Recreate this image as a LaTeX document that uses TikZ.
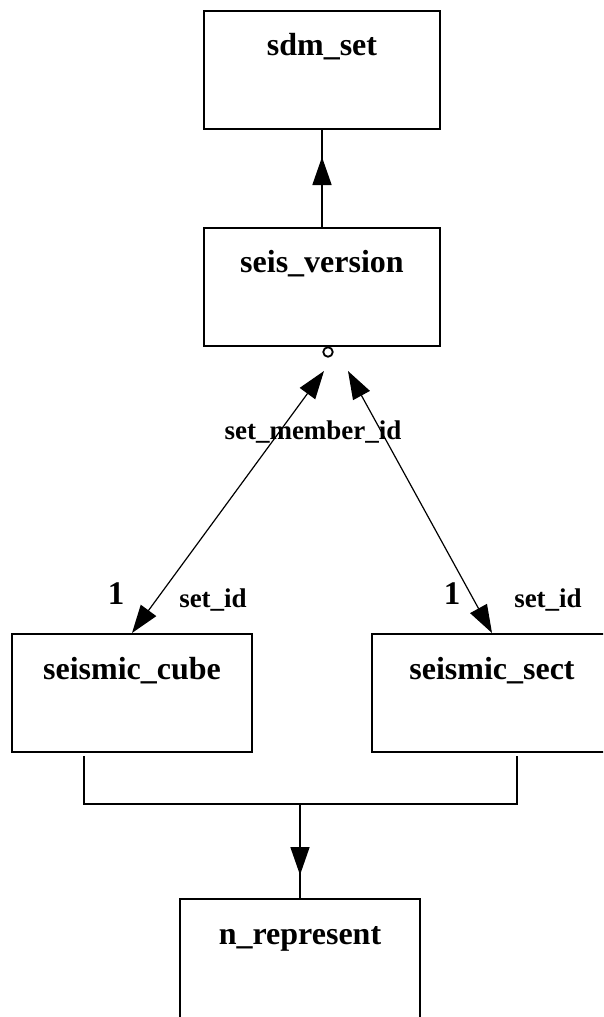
\documentclass[tikz,border=0pt]{standalone}
\usepackage{fontspec}
\setmainfont{Liberation Serif}
\usetikzlibrary{arrows.meta}
\begin{document}
\begin{tikzpicture}[x=1pt,y=1pt,
  ent/.style={draw, line width=1.5pt, minimum width=236pt, minimum height=118pt, inner sep=0pt, anchor=north},
  title/.style={font=\fontsize{32}{34}\selectfont\bfseries, anchor=base, inner sep=0pt},
  lbl/.style={font=\fontsize{27}{29}\selectfont\bfseries, anchor=base, inner sep=0pt},
  card/.style={font=\fontsize{33}{35}\selectfont\bfseries, anchor=base, inner sep=0pt},
  conn/.style={line width=1.2pt},
  vconn/.style={line width=1.7pt},
  tip/.style={-{Triangle[length=28pt,width=19pt]}},
  btip/.style={{Triangle[length=28pt,width=19pt]}-{Triangle[length=28pt,width=19pt]}}
]
\useasboundingbox (0,0) rectangle (603,-1017);
\clip (0,0) rectangle (603,-1017);
% entities
\node[ent] (sdm) at (322,-10) {};
\node[title] (sdmt) at (322,-55) {sdm\_set};
\node[ent] (sv) at (322,-227) {};
\node[title] (svt) at (322,-272) {seis\_version};
\node[ent, minimum width=240pt] (cube) at (132,-633) {};
\node[title] (cubet) at (132,-679) {seismic\_cube};
\node[ent, minimum width=240pt] (sect) at (492,-633) {};
\node[title] (sectt) at (492,-679) {seismic\_sect};
\node[ent, minimum width=240pt, minimum height=122pt] (nrep) at (300,-898) {};
\node[title] (nrept) at (300,-944) {n\_represent};
% sdm_set <- seis_version
\coordinate (t1) at (sv.north |- 0,-157);
\draw[vconn] (sv.north) -- (sdm.south);
\draw[vconn, tip] (sv.north) -- (t1);
% optional marker
\node[circle, draw, line width=1.8pt, fill=white, minimum size=9.5pt, inner sep=0pt] (opt) at (328,-352) {};
% relationships
\coordinate (la) at (324,-371);
\coordinate (ra) at (348,-371);
\draw[conn, btip] (la) -- (cube.north);
\draw[conn, btip] (ra) -- (sect.north);
\node[lbl] (smid) at (313,-439) {set\_member\_id};
\node[card] (c1) at (116,-604) {1};
\node[lbl] (s1) at (213,-607) {set\_id};
\node[card] (c2) at (452,-604) {1};
\node[lbl] (s2) at (548,-607) {set\_id};
% subtype connector
\coordinate (cb) at (84,-756);
\coordinate (cbb) at (84,-804);
\coordinate (sb) at (517,-756);
\coordinate (sbb) at (517,-804);
\coordinate (mid) at (300,-804);
\coordinate (t2) at (300,-875);
\draw[conn] (cb) -- (cbb) -- (sbb) -- (sb);
\draw[vconn] (mid) -- (nrep.north);
\draw[vconn, tip] (mid) -- (t2);
\end{tikzpicture}
\end{document}
